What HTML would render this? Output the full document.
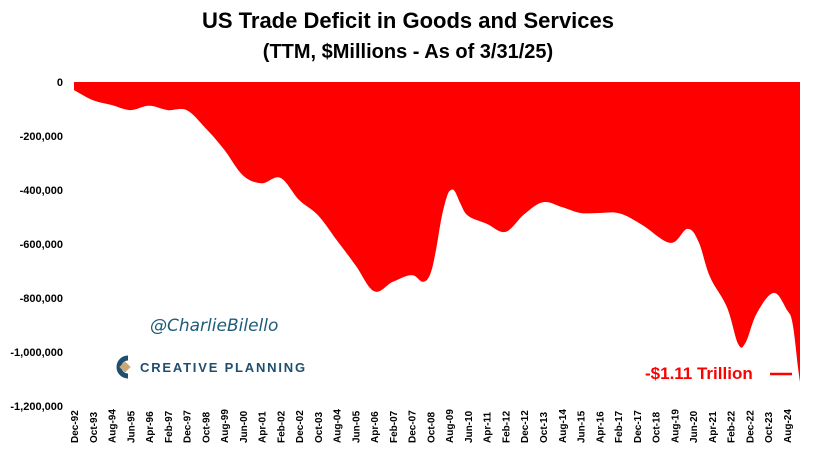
<!DOCTYPE html>
<html><head><meta charset="utf-8"><style>
body{margin:0;background:#fff;width:815px;height:458px;overflow:hidden;font-family:"Liberation Sans",sans-serif}
</style></head><body>
<svg id="chart" width="815" height="458" xmlns="http://www.w3.org/2000/svg">
<text x="408" y="28" text-anchor="middle" font-size="22" font-weight="bold" fill="#000">US Trade Deficit in Goods and Services</text>
<text x="408" y="58" text-anchor="middle" font-size="20" font-weight="bold" fill="#000">(TTM, $Millions - As of 3/31/25)</text>
<g id="yaxis"></g>
<g id="xaxis"></g>
<path id="area" fill="#ff0000"></path>
<text x="150" y="331" font-size="17" font-style="italic" fill="#1f5c7a" font-family="'DejaVu Sans',sans-serif">@CharlieBilello</text>
<g>
<path d="M128 358 A9 9 0 1 0 128 376" stroke="#1f4e6e" stroke-width="5" fill="none"/>
<rect x="121" y="363" width="8" height="8" transform="rotate(45 125 367)" fill="#c9a877"/>
<text x="140" y="372" font-size="13" font-weight="bold" fill="#1f4e6e" letter-spacing="1.8">CREATIVE PLANNING</text>
</g>
<text x="645" y="379" font-size="17" font-weight="bold" fill="#ff0000">-$1.11 Trillion</text>
<line x1="770" y1="374" x2="792" y2="374" stroke="#ff0000" stroke-width="2.5"/>
</svg>
<script>
const monthIdx=[0,10,20,30,40,50,60,70,80,90,100,110,120,130,140,150,160,170,180,186,190,193,196,199,201,203,206,210,220,230,240,250,260,270,280,291,303,318,327,333,339,348,354,358,364,373,380,383,386,387];
const deficitK=[-30,-67,-85,-104,-88,-104,-104,-170,-250,-345,-375,-355,-437,-493,-585,-678,-775,-740,-715,-740,-710,-620,-500,-420,-400,-405,-450,-495,-525,-555,-490,-445,-463,-485,-485,-487,-530,-596,-544,-593,-722,-833,-970,-965,-856,-781,-844,-893,-1060,-1110];
const yTicks=[0,-200,-400,-600,-800,-1000,-1200];
const yTickLabels=["0","-200,000","-400,000","-600,000","-800,000","-1,000,000","-1,200,000"];
const xTickMonths=[0,10,20,30,40,50,60,70,80,90,100,110,120,130,140,150,160,170,180,190,200,210,220,230,240,250,260,270,280,290,300,310,320,330,340,350,360,370,380];
const xTickLabels=["Dec-92","Oct-93","Aug-94","Jun-95","Apr-96","Feb-97","Dec-97","Oct-98","Aug-99","Jun-00","Apr-01","Feb-02","Dec-02","Oct-03","Aug-04","Jun-05","Apr-06","Feb-07","Dec-07","Oct-08","Aug-09","Jun-10","Apr-11","Feb-12","Dec-12","Oct-13","Aug-14","Jun-15","Apr-16","Feb-17","Dec-17","Oct-18","Aug-19","Jun-20","Apr-21","Feb-22","Dec-22","Oct-23","Aug-24"];
const NS="http://www.w3.org/2000/svg";
const xS=m=>74+m*(800-74)/387;
const yS=v=>82+(-v)*(324/1200);
const P=monthIdx.map((m,i)=>[xS(m),yS(deficitK[i])]);
let d="M"+xS(0)+","+yS(0)+" L"+P[0][0].toFixed(1)+","+P[0][1].toFixed(1);
for(let i=0;i<P.length-1;i++){
  const p0=P[Math.max(0,i-1)],p1=P[i],p2=P[i+1],p3=P[Math.min(P.length-1,i+2)];
  const t=0.35;
  const c1=[p1[0]+(p2[0]-p0[0])*t/2*1,p1[1]+(p2[1]-p0[1])*t/2];
  const c2=[p2[0]-(p3[0]-p1[0])*t/2,p2[1]-(p3[1]-p1[1])*t/2];
  d+=" C"+c1[0].toFixed(1)+","+c1[1].toFixed(1)+" "+c2[0].toFixed(1)+","+c2[1].toFixed(1)+" "+p2[0].toFixed(1)+","+p2[1].toFixed(1);
}
d+=" L"+xS(387)+","+yS(0)+" Z";
document.getElementById('area').setAttribute('d',d);
const ya=document.getElementById('yaxis');
yTicks.forEach((t,i)=>{const e=document.createElementNS(NS,'text');


e.setAttribute('x',63);e.setAttribute('y',yS(t)+4);e.setAttribute('text-anchor','end');e.setAttribute('font-size','11');e.setAttribute('font-weight','bold');e.textContent=yTickLabels[i];ya.appendChild(e);});
const xa=document.getElementById('xaxis');
xTickMonths.forEach((m,i)=>{const e=document.createElementNS(NS,'text');


const x=xS(m)+4;e.setAttribute('transform','translate('+x+',443) rotate(-90)');e.setAttribute('font-size','10');e.setAttribute('font-weight','bold');e.textContent=xTickLabels[i];xa.appendChild(e);});
</script>
</body></html>
